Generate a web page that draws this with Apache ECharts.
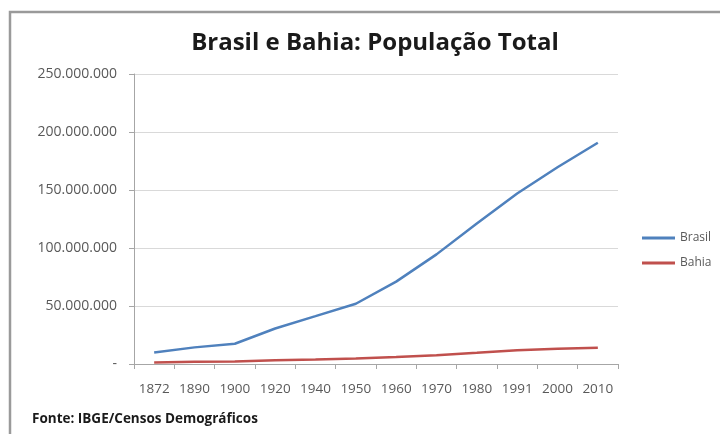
<!DOCTYPE html>
<html>
<head>
<meta charset="utf-8">
<script src="https://cdn.jsdelivr.net/npm/echarts@6/dist/echarts.min.js"></script>
<style>
html,body{margin:0;padding:0;background:#fff;}
#chart{width:720px;height:434px;}
</style>
</head>
<body>
<div id="chart"></div>
<script>
const categories = ['1872','1890','1900','1920','1940','1950','1960','1970','1980','1991','2000','2010'];
const brasil = [9930478, 14333915, 17438434, 30635605, 41236315, 51944397, 70992343, 94508583, 121150573, 146917459, 169590693, 190755799];
const bahia = [1379616, 1919802, 2117956, 3334465, 3918112, 4834575, 5990605, 7583140, 9597393, 11867991, 13085769, 14016906];
const yTicks = [0, 50000000, 100000000, 150000000, 200000000, 250000000];
const seriesNames = ['Brasil', 'Bahia'];

const FONT = '"Open Sans", "DejaVu Sans", sans-serif';
function fmt(v){
  if (v === 0) return '-';
  return String(Math.round(v)).replace(/\B(?=(\d{3})+(?!\d))/g, '.');
}

const chart = echarts.init(document.getElementById('chart'), null, {renderer:'canvas'});
chart.setOption({
  animation:false,
  backgroundColor:'#ffffff',
  graphic:[
    {type:'rect', shape:{x:10, y:12, width:730, height:440}, style:{fill:'none', stroke:'#9a9a9a', lineWidth:2.5}, silent:true},
    {type:'text', left:32, top:412, style:{text:'Fonte: IBGE/Censos Demográficos', font:'bold 13.5px ' + FONT, fill:'#1a1a1a'}}
  ],
  title:{
    text:'Brasil e Bahia: População Total',
    left:370, top:26, textAlign:'center',
    textStyle:{fontFamily:FONT, fontWeight:'bold', fontSize:24, color:'#1a1a1a'}
  },
  legend:{
    orient:'vertical', left:637, top:226,
    itemWidth:33, itemHeight:3, itemGap:11, icon:'rect',
    textStyle:{fontFamily:FONT, fontSize:12, color:'#595959', lineHeight:14},
    data:seriesNames
  },
  grid:{left:134, right:102, top:74, bottom:70, containLabel:false},
  xAxis:{
    type:'category', data:categories, boundaryGap:true,
    axisLine:{lineStyle:{color:'#a6a6a6', width:1}},
    axisTick:{show:true, alignWithLabel:false, length:5, lineStyle:{color:'#a6a6a6'}},
    axisLabel:{fontFamily:FONT, fontSize:13.5, color:'#595959', margin:18, interval:0}
  },
  yAxis:{
    type:'value', min:0, max:250000000, interval:50000000,
    axisLine:{show:true, lineStyle:{color:'#a6a6a6', width:1}},
    axisTick:{show:true, length:5, lineStyle:{color:'#a6a6a6'}},
    splitLine:{show:true, lineStyle:{color:'#d9d9d9', width:1}},
    axisLabel:{fontFamily:FONT, fontSize:14, color:'#595959', margin:17,
      formatter:function(v){ return fmt(v); }}
  },
  series:[
    {name:seriesNames[0], type:'line', data:brasil, showSymbol:false, symbol:'none',
      lineStyle:{color:'#4F81BD', width:2.5}, itemStyle:{color:'#4F81BD'}},
    {name:seriesNames[1], type:'line', data:bahia, showSymbol:false, symbol:'none',
      lineStyle:{color:'#C0504D', width:2.5}, itemStyle:{color:'#C0504D'}}
  ]
});
</script>
</body>
</html>
